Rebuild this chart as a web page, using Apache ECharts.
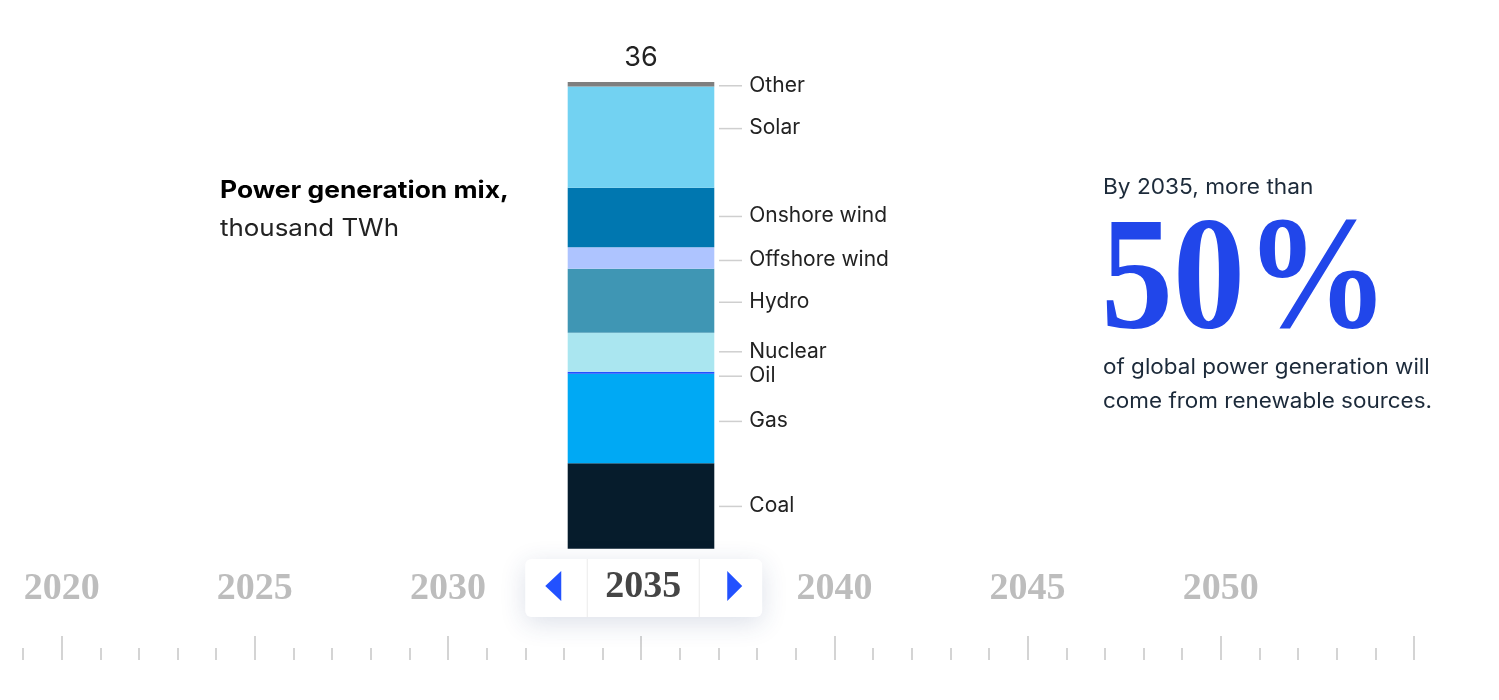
<!DOCTYPE html>
<html><head><meta charset="utf-8">
<script src="https://cdn.jsdelivr.net/npm/echarts@6/dist/echarts.min.js"></script>
<style>html,body{margin:0;padding:0;background:#fff}#c{width:1499px;height:700px}</style>
</head><body><div id="c"></div>
<script>
// ---- data ----
const categories = ['2035'];
const sources = ['Coal', 'Gas', 'Oil', 'Nuclear', 'Hydro', 'Offshore wind', 'Onshore wind', 'Solar', 'Other'];
const values = [6.6, 6.9, 0.15, 3.0, 4.95, 1.65, 4.6, 7.8, 0.35];
const totals = [36];
const years = [2019, 2020, 2021, 2022, 2023, 2024, 2025, 2026, 2027, 2028, 2029, 2030, 2031, 2032, 2033, 2034, 2035, 2036, 2037, 2038, 2039, 2040, 2041, 2042, 2043, 2044, 2045, 2046, 2047, 2048, 2049, 2050, 2051, 2052, 2053, 2054, 2055];
const majorYears = [2020, 2025, 2030, 2035, 2040, 2045, 2050, 2055];
const labelYears = [2020, 2025, 2030, 2035, 2040, 2045, 2050];
const selectedYear = 2035;
const titleBold = 'Power generation mix,';
const titleUnit = 'thousand TWh';
const noteTop = 'By ' + selectedYear + ', more than';
const noteBig = '50%';
const noteBottom = ['of global power generation will', 'come from renewable sources.'];

// ---- styles ----
const colors = ['#061c2c', '#00a9f4', '#2251ff', '#aae6f0', '#3f96b4', '#aec4ff', '#0077b0', '#72d2f2', '#7f7f7f'];
const labelDy = [0, 2.5, 3, -1, 1, 2, -1.5, -9, 1];
const sans = 'Inter, "Noto Sans", sans-serif';
const serif = '"Liberation Serif", "DejaVu Serif", serif';

const chart = echarts.init(document.getElementById('c'), null, {renderer: 'canvas'});

const series = sources.map((s, i) => ({
  name: s,
  type: 'bar',
  stack: 'mix',
  xAxisIndex: 0, yAxisIndex: 0,
  barWidth: '100%',
  data: [values[i]],
  itemStyle: {color: colors[i]},
  silent: true,
  label: {
    show: true,
    position: 'right',
    distance: 35,
    offset: [0, labelDy[i]],
    formatter: s,
    fontFamily: sans,
    fontSize: 21,
    color: '#222'
  }
}));
series.push({
  name: 'Total', type: 'bar', xAxisIndex: 0, yAxisIndex: 0,
  barWidth: '100%', barGap: '-100%', data: totals, silent: true, z: 1,
  itemStyle: {color: 'rgba(0,0,0,0)'},
  label: {show: true, position: 'top', distance: 11, fontFamily: sans, fontSize: 27, color: '#222'}
});

const tickStyle = {color: '#c6c6c6', width: 1.5};
const option = {
  animation: false,
  backgroundColor: '#fff',
  grid: [
    {left: 567.7, width: 146.6, top: 82, bottom: 151.3},
    {left: 23, right: 85, top: 640, height: 20},
    {left: 23, right: 85, top: 640, height: 20}
  ],
  xAxis: [
    {type: 'category', gridIndex: 0, data: categories, show: false},
    {type: 'category', gridIndex: 1, data: years, position: 'top', boundaryGap: false,
      axisLine: {show: false}, axisLabel: {show: false}, splitLine: {show: false},
      axisTick: {show: true, interval: 0, length: 12, lineStyle: tickStyle}},
    {type: 'category', gridIndex: 2, data: years, position: 'top', boundaryGap: false,
      axisLine: {show: false}, splitLine: {show: false},
      axisTick: {show: true, length: 24, interval: (i, v) => majorYears.includes(Number(v)), lineStyle: tickStyle},
      axisLabel: {show: true, margin: 32,
        interval: (i, v) => labelYears.includes(Number(v)) && Number(v) !== selectedYear,
        fontFamily: serif, fontWeight: 'bold', fontSize: 38, color: '#bdbdbd'}}
  ],
  yAxis: [
    {type: 'value', gridIndex: 0, min: 0, max: 36, show: false},
    {type: 'value', gridIndex: 1, show: false},
    {type: 'value', gridIndex: 2, show: false}
  ],
  series: series
};
chart.setOption(option);

function buildGraphics() {
  const g = [];
  // leader lines
  let cum = 0;
  sources.forEach((s, i) => {
    const mid = cum + values[i] / 2;
    cum += values[i];
    const y = chart.convertToPixel({yAxisIndex: 0}, mid) + labelDy[i] + 0.5;
    g.push({type: 'line', silent: true, shape: {x1: 719, y1: y, x2: 742, y2: y}, style: {stroke: '#cfcfcf', lineWidth: 1.5}});
  });
  // selected year box
  const cx = chart.convertToPixel({xAxisIndex: 2}, String(selectedYear)) + 2;
  g.push({type: 'rect', silent: true, z: 10, shape: {x: cx - 118, y: 559, width: 237, height: 58, r: 6},
    style: {fill: '#fff', shadowBlur: 26, shadowColor: 'rgba(40,60,120,0.16)', shadowOffsetY: 6}});
  g.push({type: 'line', silent: true, z: 11, shape: {x1: cx - 56, y1: 559, x2: cx - 56, y2: 617}, style: {stroke: '#ebebeb', lineWidth: 1}});
  g.push({type: 'line', silent: true, z: 11, shape: {x1: cx + 56, y1: 559, x2: cx + 56, y2: 617}, style: {stroke: '#ebebeb', lineWidth: 1}});
  g.push({type: 'polygon', silent: true, z: 11, shape: {points: [[cx - 98, 586], [cx - 82, 571], [cx - 82, 601]]}, style: {fill: '#2251ff'}});
  g.push({type: 'polygon', silent: true, z: 11, shape: {points: [[cx + 84, 571], [cx + 99, 586], [cx + 84, 601]]}, style: {fill: '#2251ff'}});
  g.push({type: 'text', silent: true, z: 12, x: cx, y: 587,
    style: {text: String(selectedYear), fontFamily: serif, fontWeight: 'bold', fontSize: 38, fill: '#454545', align: 'center', verticalAlign: 'middle'}});
  // left title
  g.push({type: 'text', silent: true, x: 220, y: 191, scaleX: 1.1, style: {text: titleBold, fontFamily: sans, fontWeight: 'bold', fontSize: 24, fill: '#000', verticalAlign: 'middle'}});
  g.push({type: 'text', silent: true, x: 220, y: 229, scaleX: 1.08, style: {text: titleUnit, fontFamily: sans, fontSize: 24, fill: '#222', verticalAlign: 'middle'}});
  // right note
  g.push({type: 'text', silent: true, x: 1103, y: 188, scaleX: 1.08, style: {text: noteTop, fontFamily: sans, fontSize: 21, fill: '#1c2a3a', verticalAlign: 'middle'}});
  g.push({type: 'text', silent: true, x: 1101, y: 286, scaleX: 0.9,
    style: {text: noteBig, fontFamily: serif, fontWeight: 'bold', fontSize: 160, fill: '#2146ea', verticalAlign: 'middle'}});
  g.push({type: 'text', silent: true, x: 1103, y: 368, scaleX: 1.07, style: {text: noteBottom[0], fontFamily: sans, fontSize: 21, fill: '#1c2a3a', verticalAlign: 'middle'}});
  g.push({type: 'text', silent: true, x: 1103, y: 402, scaleX: 1.07, style: {text: noteBottom[1], fontFamily: sans, fontSize: 21, fill: '#1c2a3a', verticalAlign: 'middle'}});
  return g;
}
chart.setOption({graphic: {elements: buildGraphics()}});
</script>
</body></html>
